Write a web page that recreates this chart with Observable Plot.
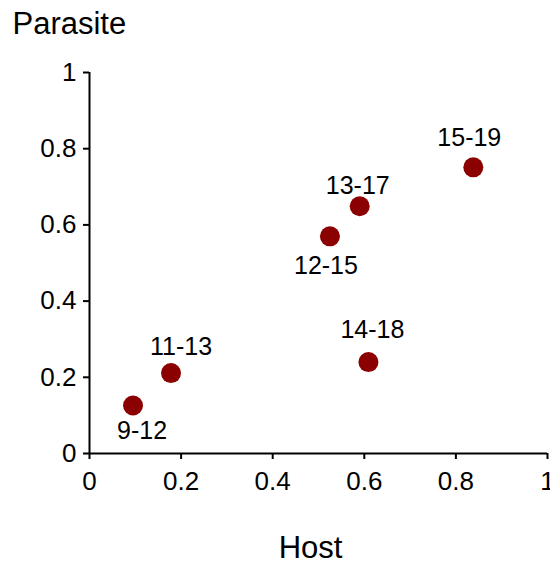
<!DOCTYPE html>
<html><head><meta charset="utf-8">
<script src="https://cdn.jsdelivr.net/npm/d3@7"></script>
<script src="https://cdn.jsdelivr.net/npm/@observablehq/plot@0.6"></script>
<style>body{margin:0;background:#fff}</style>
</head><body><div id="chart"></div>
<script>
const labels = ["9-12", "11-13", "12-15", "13-17", "14-18", "15-19"];
const host = [0.095, 0.178, 0.525, 0.590, 0.609, 0.838];
const parasite = [0.126, 0.211, 0.570, 0.649, 0.240, 0.751];
const xTicks = [0, 0.2, 0.4, 0.6, 0.8, 1];
const yTicks = [0, 0.2, 0.4, 0.6, 0.8, 1];
const xTitle = "Host";
const yTitle = "Parasite";

const data = labels.map((label, i) => ({label, host: host[i], parasite: parasite[i]}));
// label placement relative to each dot (layout only)
const labelOffset = {"9-12": [9, 26], "11-13": [10, -26], "12-15": [-4, 30], "13-17": [-2, -20], "14-18": [4, -32], "15-19": [-4, -29]};
const font = "'Liberation Sans', Arial, sans-serif";

const chart = Plot.plot({
  width: 550,
  height: 565,
  marginLeft: 89,
  marginRight: 3,
  marginTop: 72,
  marginBottom: 112,
  style: {fontFamily: font, background: "#fff", color: "#000"},
  x: {domain: [0, 1]},
  y: {domain: [0, 1]},
  marks: [
    Plot.axisX(xTicks, {tickSize: 6, tickPadding: 12, fontSize: 26, strokeWidth: 2, label: null, tickFormat: d => String(d)}),
    Plot.axisY(yTicks, {tickSize: 6, tickPadding: 7, fontSize: 26, strokeWidth: 2, label: null, tickFormat: d => String(d)}),
    Plot.ruleX([0], {stroke: "#000", strokeWidth: 2}),
    Plot.ruleY([0], {stroke: "#000", strokeWidth: 2}),
    Plot.dot(data, {x: "host", y: "parasite", r: 10, fill: "#8B0000", stroke: null}),
    ...labels.map(l => Plot.text(data.filter(d => d.label === l), {
      x: "host", y: "parasite", text: "label", fontSize: 25, fill: "#000",
      dx: labelOffset[l][0], dy: labelOffset[l][1]
    })),
    Plot.text([yTitle], {frameAnchor: "top-left", textAnchor: "start", lineAnchor: "middle", dx: -77, dy: -48, fontSize: 31, fill: "#000"}),
    Plot.text([xTitle], {frameAnchor: "bottom", lineAnchor: "middle", dx: -8, dy: 95, fontSize: 31, fill: "#000"})
  ]
});
document.getElementById("chart").appendChild(chart);
</script>
</body></html>
